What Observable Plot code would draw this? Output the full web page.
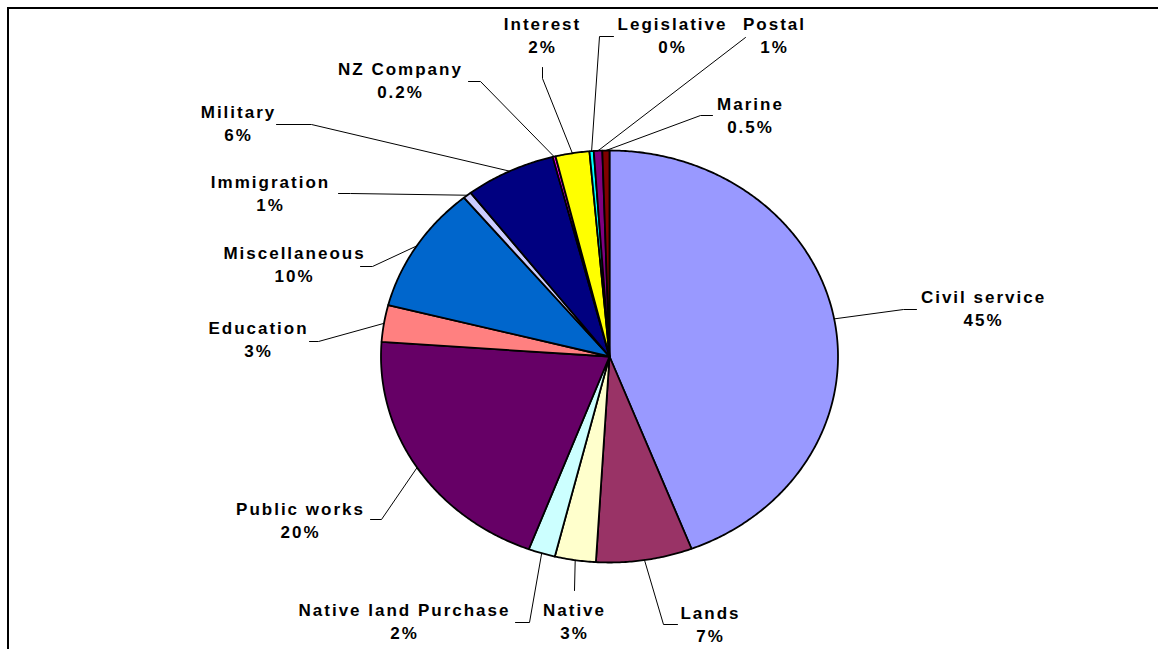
<!DOCTYPE html>
<html><head><meta charset="utf-8">
<script src="https://cdn.jsdelivr.net/npm/d3@7"></script>
<script src="https://cdn.jsdelivr.net/npm/@observablehq/plot@0.6"></script>
<style>
html,body{margin:0;padding:0;background:#fff;}
#chart svg text{letter-spacing:2px;}
</style></head><body><div id="chart"></div>
<script>
// ---- data ----
const categories = ["Civil service","Lands","Native","Native land Purchase","Public works","Education","Miscellaneous","Immigration","Military","NZ Company","Interest","Legislative","Postal","Marine"];
const shares = [44.2,6.8,2.9,1.9,20.4,2.9,10.0,0.6,6.4,0.2,2.4,0.3,0.6,0.5];
const percentLabels = ["45%","7%","3%","2%","20%","3%","10%","1%","6%","0.2%","2%","0%","1%","0.5%"];
const sliceColors = ["#9999FF","#993366","#FFFFCC","#CCFFFF","#660066","#FF8080","#0066CC","#CCCCFF","#000080","#FF00FF","#FFFF00","#00FFFF","#800080","#800000"];

// ---- layout (pixel space) ----
const W = 1158, H = 649;
const pie = {cx: 609, cy: 356, rx: 228.5, ry: 206};
const labelLayout = {
  "Civil service":        {x: 983, y: 302, leader: [[916,309],[903,309]]},
  "Lands":                {x: 710, y: 618, leader: [[677,624],[663,624]]},
  "Native":               {x: 574, y: 615, leader: [[574,590]]},
  "Native land Purchase": {x: 404, y: 615, leader: [[515,622],[529,622]]},
  "Public works":         {x: 300, y: 514, leader: [[370,519],[381,519]]},
  "Education":            {x: 258, y: 333, leader: [[309,341],[318,341]]},
  "Miscellaneous":        {x: 294, y: 258, leader: [[360,266],[372,266]]},
  "Immigration":          {x: 270, y: 187, leader: [[338,193],[350,193]]},
  "Military":             {x: 238, y: 117, leader: [[276,124],[311,124]]},
  "NZ Company":           {x: 400, y: 74,  leader: [[468,81],[480,81]]},
  "Interest":             {x: 542, y: 29,  leader: [[542,67],[542,78]]},
  "Legislative":          {x: 672, y: 29,  leader: [[613,36],[599,36]]},
  "Postal":               {x: 774, y: 29,  leader: [[745,37]]},
  "Marine":               {x: 750, y: 109, leader: [[712,115],[700,115]]}
};
const lineGap = 23.5;

// ---- build geometry from data ----
const total = d3.sum(shares);
let acc = 0;
const slices = categories.map((name, i) => {
  const a0 = acc / total * 360; acc += shares[i]; const a1 = acc / total * 360;
  return {name, a0, a1, mid: (a0 + a1) / 2, color: sliceColors[i], pct: percentLabels[i]};
});
const pt = a => [pie.cx + pie.rx * Math.sin(a * Math.PI / 180), pie.cy - pie.ry * Math.cos(a * Math.PI / 180)];
const slicePts = s => {
  const n = Math.max(2, Math.ceil((s.a1 - s.a0) / 0.5));
  const pts = [{x: pie.cx, y: pie.cy}];
  for (let k = 0; k <= n; k++) { const [x, y] = pt(s.a0 + (s.a1 - s.a0) * k / n); pts.push({x, y}); }
  pts.push({x: pie.cx, y: pie.cy});
  return pts;
};
const leaderPts = slices.flatMap(s => {
  const L = labelLayout[s.name];
  const [sx, sy] = pt(s.mid);
  return [...L.leader.map(([x, y]) => ({name: s.name, x, y})), {name: s.name, x: sx, y: sy}];
});
const nameRows = slices.map(s => ({text: s.name, x: labelLayout[s.name].x, y: labelLayout[s.name].y}));
const pctRows = slices.map(s => ({text: s.pct, x: labelLayout[s.name].x, y: labelLayout[s.name].y + lineGap}));

const textOpts = {fontFamily: "'Liberation Sans', Arial, sans-serif", fontWeight: "bold", fontSize: 17, fill: "black", lineAnchor: "bottom", textAnchor: "middle"};

const chart = Plot.plot({
  width: W, height: H,
  margin: 0,
  x: {domain: [0, W], range: [0, W], axis: null},
  y: {domain: [0, H], range: [0, H], axis: null},
  marks: [
    Plot.ruleY([7.5], {x1: 7, x2: W, stroke: "black", strokeWidth: 2}),
    Plot.ruleX([7.5], {y1: 7, y2: H, stroke: "black", strokeWidth: 2}),
    ...slices.map(s => Plot.line(slicePts(s), {x: "x", y: "y", fill: s.color, stroke: "black", strokeWidth: 1.8, strokeLinejoin: "round", curve: "linear"})),
    Plot.line(leaderPts, {x: "x", y: "y", z: "name", stroke: "black", strokeWidth: 1, curve: "linear"}),
    Plot.text(nameRows, {x: "x", y: "y", text: "text", ...textOpts}),
    Plot.text(pctRows, {x: "x", y: "y", text: "text", ...textOpts})
  ]
});
document.getElementById("chart").appendChild(chart);
</script></body></html>
